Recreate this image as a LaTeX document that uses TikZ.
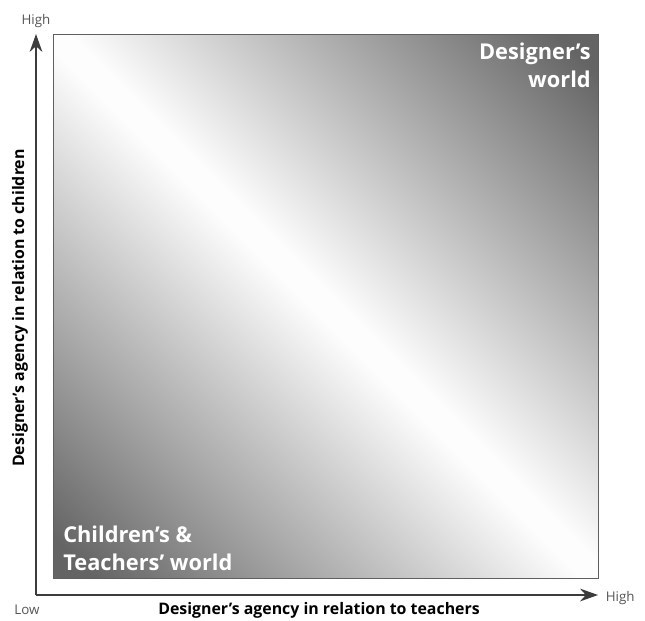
\documentclass[tikz,border=0pt]{standalone}
\usepackage{fontspec}
\setmainfont{Open Sans}
\usetikzlibrary{positioning, arrows.meta}
\definecolor{axisgray}{RGB}{60,60,60}
\definecolor{framegray}{RGB}{95,95,95}
\definecolor{endgray}{RGB}{85,85,85}
\definecolor{shadedark}{RGB}{100,100,100}
\definecolor{shadewhite}{RGB}{253,253,253}
\pgfdeclareverticalshading{fieldshade}{100bp}{color(0bp)=(shadedark); color(17bp)=(shadedark); color(49bp)=(shadewhite); color(51bp)=(shadewhite); color(83bp)=(shadedark); color(100bp)=(shadedark)}

\begin{document}
\begin{tikzpicture}[x=0.025cm, y=-0.025cm,
    axis/.style={draw=axisgray, line width=1pt, -{Stealth[length=4.5mm, width=3.2mm]}},
    axislabel/.style={font=\bfseries\fontsize{11.3}{13}\selectfont},
    endlabel/.style={text=endgray, font=\fontsize{9.5}{11}\selectfont},
    world/.style={text=white, inner sep=0pt, font=\bfseries\fontsize{15.5}{20}\selectfont}]
    \useasboundingbox (0,0) rectangle (645,620);

    % the field between the two worlds
    \shade[shading=fieldshade, shading angle=-45] (53,34) rectangle (598,578);
    \draw[framegray, line width=0.7pt] (53,34) rectangle (598,578);

    \node[world, anchor=north east, align=right] (designer) at (591,43) {Designer’s\\world};
    \node[world, anchor=south west, align=left] (children) at (63,571) {Children’s \&\\Teachers’ world};

    % axes
    \coordinate (origin) at (36,595);
    \coordinate (ytip) at (36,34);
    \coordinate (xtip) at (598,595);
    \draw[axis] (origin) -- (ytip);
    \draw[axis] (origin) -- (xtip);

    \node[endlabel, above=1pt of ytip] (yhigh) {High};
    \node[endlabel, right=2pt of xtip, yshift=-2pt] (xhigh) {High};
    \node[endlabel] (xlow) at (27,610) {Low};
    \node[axislabel] (xname) at (319,610) {Designer’s agency in relation to teachers};
    \node[axislabel, rotate=90] (yname) at (20,308) {Designer’s agency in relation to children};
\end{tikzpicture}
\end{document}
